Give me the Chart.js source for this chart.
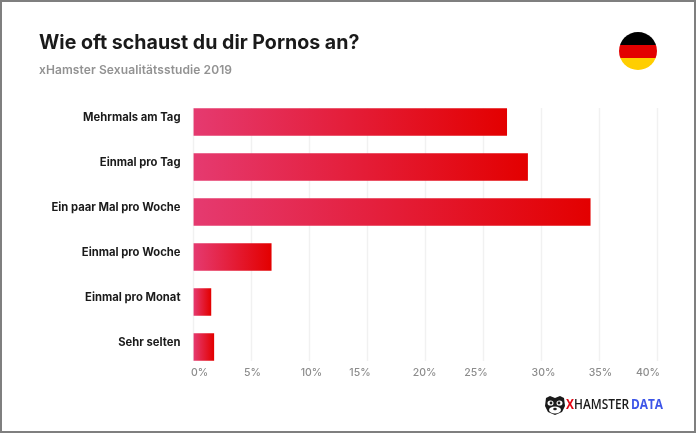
<!DOCTYPE html>
<html>
<head>
<meta charset="utf-8">
<script src="https://cdn.jsdelivr.net/npm/chart.js@4"></script>
<style>
  html, body { margin: 0; padding: 0; background: #fff; }
  #wrap { position: relative; width: 696px; height: 433px; overflow: hidden; }
  #wrap canvas { position: absolute; left: 0; top: 0; }
  #frame { position: absolute; inset: 0; border: 2px solid #7f7f7f; box-sizing: border-box; pointer-events: none; }
  .t { position: absolute; white-space: nowrap; font-family: Inter, sans-serif; }
  #title { left: 39px; top: 30px; font-size: 19.6px; font-weight: 700; color: #1a1a1a; }
  #sub { left: 39px; top: 62px; font-size: 12px; font-weight: 600; color: #929292; letter-spacing: .1px; }
  #logo { left: 566px; top: 394px; font-size: 14px; font-weight: 600; color: #1a1a1a; font-family: "Open Sans", sans-serif; transform: scaleX(.85); transform-origin: left center; }
  #logo .x { color: #e30613; font-weight: 700; }
  #logo .d { color: #3d55e8; font-weight: 700; margin-left: 2px; }
  #icon { position: absolute; left: 544px; top: 395px; }
  #flag { position: absolute; left: 619px; top: 32px; }
</style>
</head>
<body>
<div id="wrap">
  <canvas id="chart" width="696" height="433"></canvas>
  <div class="t" id="title">Wie oft schaust du dir Pornos an?</div>
  <div class="t" id="sub">xHamster Sexualitätsstudie 2019</div>
  <svg id="flag" width="38" height="38" viewBox="0 0 38 38">
    <defs><clipPath id="c"><circle cx="19" cy="19" r="19"/></clipPath></defs>
    <g clip-path="url(#c)">
      <rect width="38" height="13" fill="#000"/>
      <rect y="13" width="38" height="13" fill="#e30000"/>
      <rect y="26" width="38" height="12" fill="#ffce00"/>
    </g>
  </svg>
  <svg id="icon" width="22" height="20" viewBox="0 0 22 20">
    <path d="M1 11 L2 3 L6 1 L11 3 L16 1 L20 3 L21 11 L18 17 L11 20 L4 17 Z" fill="#1a1a1a"/>
    <ellipse cx="6.5" cy="8" rx="3" ry="2.6" fill="#fff"/>
    <ellipse cx="15.5" cy="8" rx="3" ry="2.6" fill="#fff"/>
    <circle cx="7" cy="8" r="1.4" fill="#1a1a1a"/>
    <circle cx="15" cy="8" r="1.4" fill="#1a1a1a"/>
    <ellipse cx="11" cy="15" rx="6" ry="3.4" fill="#fff"/>
    <ellipse cx="11" cy="14" rx="1.8" ry="1.2" fill="#1a1a1a"/>
  </svg>
  <div class="t" id="logo"><span class="x">X</span>HAMSTER<span class="d">DATA</span></div>
  <div id="frame"></div>
</div>
<script>
(function () {
  'use strict';

  const categories = ['Mehrmals am Tag', 'Einmal pro Tag', 'Ein paar Mal pro Woche', 'Einmal pro Woche', 'Einmal pro Monat', 'Sehr selten'];
  const shares = [27.0, 28.8, 34.2, 6.7, 1.5, 1.75];
  const tickValues = [0, 5, 10, 15, 20, 25, 30, 35, 40];
  // the tick labels in the picture are hand placed, not centred on the grid
  const tickNudge = [6, 1, 2, -7.5, -1, -7.5, 2, 1, -9.5];

  const AXIS_FONT = 'Inter, sans-serif';

  function barGradient(ctx) {
    const x = ctx.chart.scales.x;
    const x0 = x ? x.getPixelForValue(0) : NaN;
    const x1 = x ? x.getPixelForValue(shares[ctx.dataIndex]) : NaN;
    // scales have no size yet on the first pass
    if (!isFinite(x0) || !isFinite(x1)) return '#e30000';
    const g = ctx.chart.ctx.createLinearGradient(x0, 0, x1, 0);
    g.addColorStop(0, '#e53a70');
    g.addColorStop(1, '#e30000');
    return g;
  }

  const gridAndTicks = {
    id: 'gridAndTicks',
    beforeDatasetsDraw(chart) {
      const c = chart.ctx, x = chart.scales.x;
      c.save();
      c.strokeStyle = '#f1f1f1';
      c.lineWidth = 1.5;
      tickValues.forEach(v => {
        const px = x.getPixelForValue(v);
        c.beginPath();
        c.moveTo(px, 108);
        c.lineTo(px, 361);
        c.stroke();
      });
      c.fillStyle = '#8c8c8c';
      c.font = '500 10.5px ' + AXIS_FONT;
      c.textAlign = 'center';
      c.textBaseline = 'middle';
      tickValues.forEach((v, i) => {
        c.fillText(v + '%', x.getPixelForValue(v) + tickNudge[i], 373);
      });
      c.restore();
    },
  };

  new Chart(document.getElementById('chart'), {
    type: 'bar',
    data: {
      labels: categories,
      datasets: [{
        data: shares,
        backgroundColor: barGradient,
        barThickness: 27,
      }],
    },
    plugins: [gridAndTicks],
    options: {
      indexAxis: 'y',
      responsive: false,
      animation: false,
      events: [],
      layout: { padding: { left: 0, right: 38.5, top: 99.5, bottom: 63.5 } },
      plugins: { legend: { display: false }, tooltip: { enabled: false } },
      scales: {
        x: {
          min: 0, max: 40,
          display: false,
          grid: { display: false },
        },
        y: {
          afterFit(s) { s.width = 193.5; },
          grid: { display: false, drawTicks: false },
          border: { display: false },
          ticks: {
            padding: 13,
            labelOffset: -4,
            color: '#1a1a1a',
            font: { family: AXIS_FONT, size: 11.25, weight: '700' },
          },
        },
      },
    },
  });
})();
</script>
</body>
</html>
